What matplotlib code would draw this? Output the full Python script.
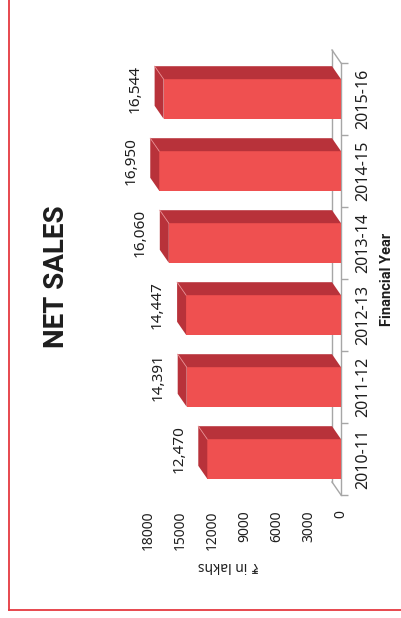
import matplotlib
matplotlib.use("Agg")
import matplotlib.pyplot as plt
from matplotlib.patches import Polygon
from matplotlib.lines import Line2D

# data
years = ["2010-11", "2011-12", "2012-13", "2013-14", "2014-15", "2015-16"]
net_sales = [12470, 14391, 14447, 16060, 16950, 16544]
value_ticks = [0, 3000, 6000, 9000, 12000, 15000, 18000]
value_max = 18000

# colours
FRONT = "#EF5050"
SIDE = "#B8323A"
EDGE = "#E68A8E"
AXIS_GREY = "#A6A6A6"
FRAME = "#E53940"
TEXT = "#1E1E1E"
BOLD_FONT = ["Roboto", "DejaVu Sans"]

plt.rcParams["font.family"] = ["Noto Sans", "DejaVu Sans"]

W, H = 401, 618
fig = plt.figure(figsize=(W / 100, H / 100), dpi=100)

# chart is drawn turned a quarter turn: value axis runs right->left,
# categories run bottom->top, all texts rotated
x_max_px, x_zero_px = 148, 341
y_top_px, y_bot_px = 63, 495
ax = fig.add_axes([x_max_px / W, 1 - y_bot_px / H,
                   (x_zero_px - x_max_px) / W, (y_bot_px - y_top_px) / H])
n = len(years)
ax.set_xlim(value_max, 0)
ax.set_ylim(-0.5, n - 0.5)

# 3d depth: 9px towards larger values, 13px up
dv = 9 * value_max / (x_zero_px - x_max_px)
dc = 13 * n / (y_bot_px - y_top_px)
h = 0.55
pos = list(range(n))

# floor outline
floor_kw = dict(color=AXIS_GREY, lw=1, zorder=1, clip_on=False)
ax.plot([0, 0], [-0.5, n - 0.5], **floor_kw)
ax.plot([dv, dv], [-0.5 + dc, n - 0.5 + dc], **floor_kw)
ax.plot([0, dv], [-0.5, -0.5 + dc], **floor_kw)
ax.plot([0, dv], [n - 0.5, n - 0.5 + dc], **floor_kw)

ax.barh(pos, net_sales, height=h, color=FRONT, zorder=3)
for c, v in zip(pos, net_sales):
    top, bot = c + h / 2, c - h / 2
    ax.add_patch(Polygon([(0, top), (v, top), (v + dv, top + dc), (dv, top + dc)],
                         closed=True, fc=SIDE, ec="none", zorder=3, clip_on=False))
    ax.add_patch(Polygon([(v, bot), (v, top), (v + dv, top + dc), (v + dv, bot + dc)],
                         closed=True, fc=SIDE, ec="none", zorder=3, clip_on=False))
    ax.plot([v, v + dv], [top, top + dc], color=EDGE, lw=0.6, zorder=4, clip_on=False)
    ax.annotate(f"{v:,}", xy=(v + dv, c), xytext=(-12, 10), textcoords="offset pixels",
                rotation=90, ha="right", va="center", fontsize=11, color=TEXT)

for s in ax.spines.values():
    s.set_visible(False)

ax.set_xticks(value_ticks)
ax.set_xticklabels([str(t) for t in value_ticks], rotation=90)
ax.tick_params(axis="x", length=0, pad=11, labelsize=10, labelcolor=TEXT)

ax.yaxis.tick_right()
ax.set_yticks(pos)
ax.set_yticklabels(years, rotation=90, va="center")
ax.set_yticks([i - 0.5 for i in range(n + 1)], minor=True)
ax.tick_params(axis="y", which="major", length=0, pad=10, labelsize=11.5, labelcolor=TEXT)
ax.tick_params(axis="y", which="minor", length=5, width=1, color=AXIS_GREY,
               direction="out", right=True, left=False)

fig.text(387 / W, 1 - 279 / H, "Financial Year", rotation=90, ha="center", va="center",
         fontsize=10.5, fontweight="bold", color=TEXT, family=BOLD_FONT)
fig.text(228 / W, 1 - 566 / H, "₹ in lakhs", rotation=180, ha="center", va="center",
         fontsize=10, color=TEXT)
fig.text(57 / W, 1 - 277 / H, "NET SALES", rotation=90, ha="center", va="center",
         fontsize=20, fontweight="bold", color=TEXT, family=BOLD_FONT)

# red frame on left and bottom
fig.add_artist(Line2D([9 / W, 9 / W], [1, 1 - 610 / H], color=FRAME, lw=1.3))
fig.add_artist(Line2D([9 / W, 1], [1 - 610 / H, 1 - 610 / H], color=FRAME, lw=1.3))

fig.savefig("out.png", dpi=100, facecolor="white")
